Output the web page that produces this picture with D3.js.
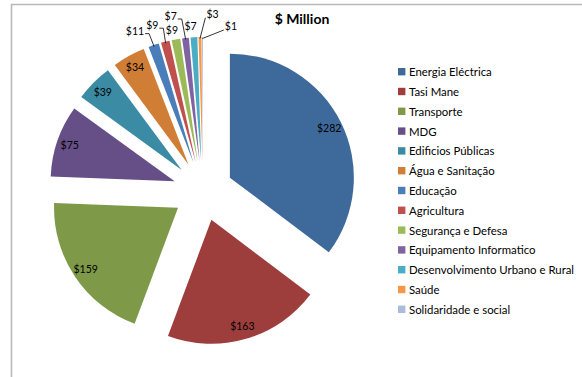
<!DOCTYPE html>
<html>
<head>
<meta charset="utf-8">
<script src="https://cdn.jsdelivr.net/npm/d3@7"></script>
<style>
  html, body { margin: 0; padding: 0; background: #fff; }
  svg { display: block; font-family: Lato, "Liberation Sans", sans-serif; }
</style>
</head>
<body>
<svg id="chart" width="582" height="377"></svg>
<script>
// ---- data ----
const categories = [
  "Energia Eléctrica", "Tasi Mane", "Transporte", "MDG", "Edificios Públicas",
  "Água e Sanitação", "Educação", "Agricultura", "Segurança e Defesa",
  "Equipamento Informatico", "Desenvolvimento Urbano e Rural", "Saúde",
  "Solidaridade e social"
];
const values = [282, 163, 159, 75, 39, 34, 11, 9, 9, 7, 7, 3, 1];
const title = "$ Million";
const labelPrefix = "$";

// ---- style / layout ----
const colors = [
  "#3E6A9B", "#9E3E3C", "#7E9A48", "#664F87", "#3A8BA3", "#D07E36",
  "#4A7EBB", "#C0504D", "#9BBB59", "#8064A2", "#4BACC6", "#F79646", "#A9BCDC"
];
const W = 582, H = 377;
const cx = 203, cy = 191, R = 124, explode = 30, insideR = 111;
// outside-label placement for small slices: offset from outer arc point; leader type
const outsideLabels = {
  6:  {dx: -18.7, dy: -14.5, leader: "left"},
  7:  {dx: -13,   dy: -16.5, leader: "left"},
  8:  {dx: -4,    dy: -9.5,  leader: null},
  9:  {dx: -14.8, dy: -22,   leader: "left"},
  10: {dx: -3.3,  dy: -11.5, leader: null},
  11: {dx: 12.5,  dy: -23.3, leader: "right"},
  12: {dx: 28.5,  dy: -11,   leader: "right"}
};

const svg = d3.select("#chart");

// frame
svg.append("path")
  .attr("d", `M11.5,${H} L11.5,4.5 L${W},4.5`)
  .attr("fill", "none").attr("stroke", "#b8b8b8").attr("stroke-width", 1.6);

// title
svg.append("text")
  .attr("x", 302).attr("y", 24)
  .attr("text-anchor", "middle")
  .attr("font-weight", "bold").attr("font-size", 14)
  .attr("fill", "#000")
  .text(title);

// pie
const pie = d3.pie().sort(null).value(d => d)(values);
const arc = d3.arc().innerRadius(0).outerRadius(R);
const g = svg.append("g").attr("transform", `translate(${cx},${cy})`);

function dir(a) { return [Math.sin(a), -Math.cos(a)]; }

pie.forEach((p, i) => {
  const mid = (p.startAngle + p.endAngle) / 2;
  const [ux, uy] = dir(mid);
  const ox = ux * explode, oy = uy * explode;
  g.append("path")
    .attr("d", arc(p))
    .attr("transform", `translate(${ox},${oy})`)
    .attr("fill", colors[i]);

  const txt = labelPrefix + values[i];
  if (outsideLabels[i]) {
    const o = outsideLabels[i];
    const px = ox + ux * R, py = oy + uy * R;
    const lx = px + o.dx, ly = py + o.dy;
    const t = g.append("text")
      .attr("x", lx).attr("y", ly)
      .attr("text-anchor", "middle").attr("dominant-baseline", "central")
      .attr("font-size", 10.5).attr("fill", "#000")
      .text(txt);
    const w = t.node().getComputedTextLength();
    if (o.leader === "left") {
      const sx = lx + w / 2 + 1, sy = ly + 3;
      g.append("polyline")
        .attr("points", [[sx, sy], [sx + 4, sy], [px - ux * 1.5, py - uy * 1.5]].map(q => q.join(",")).join(" "))
        .attr("fill", "none").attr("stroke", "#000").attr("stroke-width", 0.8);
    } else if (o.leader === "right") {
      const sx = lx - w / 2 - 1, sy = ly + 4;
      g.append("polyline")
        .attr("points", [[sx, sy], [px - ux * 1.5, py - uy * 1.5]].map(q => q.join(",")).join(" "))
        .attr("fill", "none").attr("stroke", "#000").attr("stroke-width", 0.8);
    }
  } else {
    g.append("text")
      .attr("x", ox + ux * insideR).attr("y", oy + uy * insideR)
      .attr("text-anchor", "middle").attr("dominant-baseline", "central")
      .attr("font-size", 10.5).attr("fill", "#000")
      .text(txt);
  }
});

// legend
const ly = d3.scaleLinear().domain([0, categories.length - 1]).range([71.7, 309.3]);
const leg = svg.append("g");
categories.forEach((c, i) => {
  const y = ly(i);
  leg.append("rect")
    .attr("x", 398).attr("y", y - 3.7).attr("width", 7.4).attr("height", 7.4)
    .attr("fill", colors[i]);
  leg.append("text")
    .attr("x", 409).attr("y", y)
    .attr("dominant-baseline", "central")
    .attr("font-size", 11.4).attr("fill", "#000")
    .text(c);
});
</script>
</body>
</html>
